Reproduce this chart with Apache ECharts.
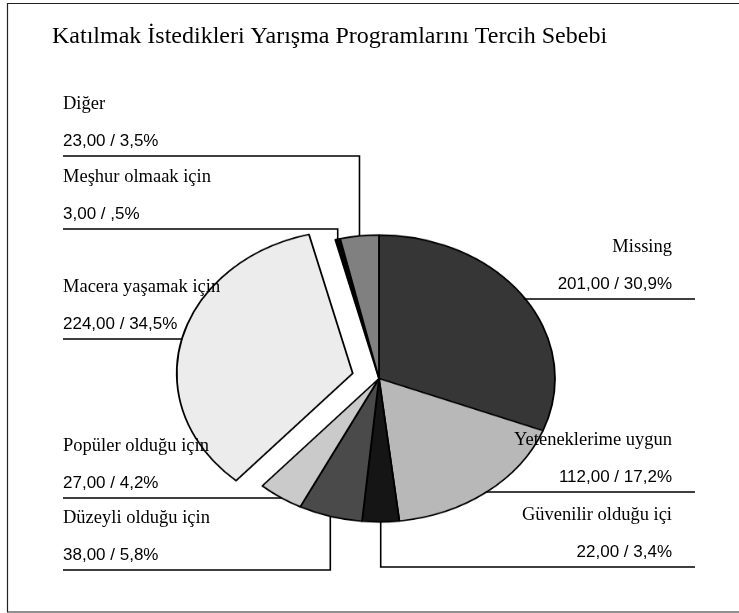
<!DOCTYPE html>
<html>
<head>
<meta charset="utf-8">
<script src="https://cdn.jsdelivr.net/npm/echarts@6/dist/echarts.min.js"></script>
<style>
  html, body { margin: 0; padding: 0; background: #fff; }
  .layer { position: absolute; left: 0; top: 0; width: 739px; height: 613px; }
  /* the pie is drawn as a circle and squeezed into an ellipse */
  #pie { transform: scaleY(0.815); transform-origin: 0 378.5px; }
</style>
</head>
<body>
<div id="pie" class="layer"></div>
<div id="lab" class="layer"></div>
<script>
// data
const categories = [
  "Missing",
  "Yeteneklerime uygun",
  "Güvenilir olduğu içi",
  "Düzeyli olduğu için",
  "Popüler olduğu için",
  "Macera yaşamak için",
  "Meşhur olmaak için",
  "Diğer"
];
const counts = [201, 112, 22, 38, 27, 224, 3, 23];
const exploded = [false, false, false, false, false, true, false, false];

// styles / layout
const sliceColors = ["#363636", "#b8b8b8", "#151515", "#4a4a4a", "#cacaca", "#ececec", "#000000", "#808080"];
// label side and underline y for each category
const labelSide = ["right", "right", "right", "left", "left", "left", "left", "left"];
const labelLineY = [299, 492, 567, 570, 498, 339, 229, 156];

const cx = 379, cy = 378.5, rx = 176, k = 0.815, explodeOff = 27;
const leftX = 63, rightTextX = 672, rightLineX = 695;

const total = counts.reduce((a, b) => a + b, 0);

function fmtNum(v, d) {
  let s = v.toFixed(d).replace(".", ",");
  if (s.startsWith("0,")) s = s.slice(1);
  return s;
}

const pieData = categories.map((name, i) => ({
  name: name,
  value: counts[i],
  selected: exploded[i],
  itemStyle: { color: sliceColors[i] }
}));

// ---------- pie layer ----------
const pieChart = echarts.init(document.getElementById("pie"), null, { renderer: "canvas" });
pieChart.setOption({
  animation: false,
  series: [{
    type: "pie",
    center: [cx, cy],
    radius: rx,
    startAngle: 90,
    clockwise: true,
    selectedMode: "single",
    selectedOffset: explodeOff,
    silent: true,
    label: { show: false },
    labelLine: { show: false },
    itemStyle: { borderColor: "#000", borderWidth: 1.8 },
    select: { itemStyle: { borderColor: "#000", borderWidth: 1.8 } },
    emphasis: { disabled: true },
    data: pieData
  }]
});

// ---------- label layer ----------
function anchorOf(i) {
  let acc = 0;
  for (let j = 0; j < i; j++) acc += counts[j];
  const mid = (acc + counts[i] / 2) / total * Math.PI * 2;
  const r = rx + (exploded[i] ? explodeOff : 0);
  return [cx + r * Math.sin(mid), cy - r * k * Math.cos(mid)];
}

const labChart = echarts.init(document.getElementById("lab"), null, { renderer: "canvas" });
labChart.setOption({
  animation: false,
  title: {
    text: "Katılmak İstedikleri Yarışma Programlarını Tercih Sebebi",
    left: 52,
    top: 25,
    padding: 0,
    textStyle: { fontFamily: "Liberation Serif", fontSize: 24, fontWeight: "normal", color: "#000" }
  },
  graphic: [{
    type: "rect",
    shape: { x: 7.5, y: 3.5, width: 800, height: 608.5 },
    style: { fill: "none", stroke: "#222", lineWidth: 1.2 },
    silent: true
  }],
  series: [{
    type: "pie",
    center: [cx, cy],
    radius: rx,
    startAngle: 90,
    clockwise: true,
    silent: true,
    avoidLabelOverlap: false,
    itemStyle: { color: "rgba(0,0,0,0)", borderWidth: 0 },
    emphasis: { disabled: true },
    label: {
      show: true,
      position: "outside",
      formatter: function (p) {
        const i = p.dataIndex;
        return "{n|" + p.name + "}\n{v|" + fmtNum(counts[i], 2) + " / " + fmtNum(counts[i] / total * 100, 1) + "%}";
      },
      rich: {
        n: { fontFamily: "Liberation Serif", fontSize: 18.5, lineHeight: 46, color: "#000" },
        v: { fontFamily: "Liberation Sans", fontSize: 17, lineHeight: 28, color: "#000" }
      }
    },
    labelLine: { show: true, length: 10, length2: 10, lineStyle: { color: "#000", width: 1.6 } },
    labelLayout: function (params) {
      const i = params.dataIndex;
      const a = anchorOf(i);
      const ly = labelLineY[i];
      const isLeft = labelSide[i] === "left";
      return {
        x: isLeft ? leftX : rightTextX,
        y: ly - 1,
        align: isLeft ? "left" : "right",
        verticalAlign: "bottom",
        labelLinePoints: [a, [a[0], ly], [isLeft ? leftX : rightLineX, ly]]
      };
    },
    data: categories.map((name, i) => ({ name: name, value: counts[i] }))
  }]
});
</script>
</body>
</html>
